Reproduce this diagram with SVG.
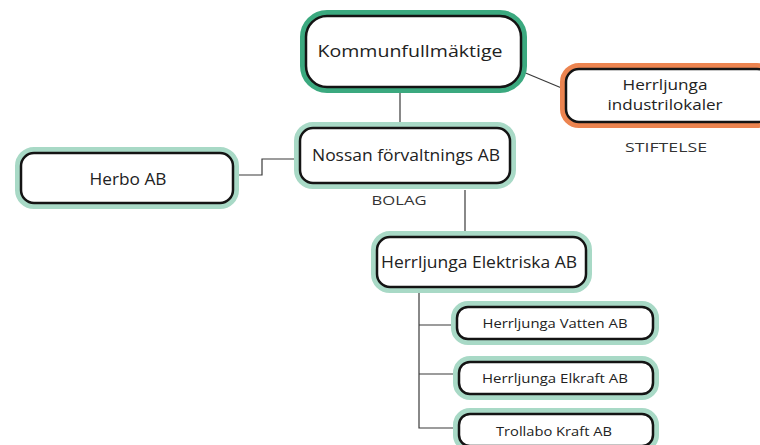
<svg xmlns="http://www.w3.org/2000/svg" width="760" height="445" viewBox="0 0 760 445">
<style>
.halo{fill:#fff;stroke:#a8d9c6;stroke-width:6}
.halo.g{stroke:#3ba97f}
.halo.o{stroke:#ec8450}
.core{fill:#fff;stroke:#141414;stroke-width:2.5}
text{font-family:"Open Sans","Liberation Sans",sans-serif;fill:#222;text-anchor:middle;dominant-baseline:central}
.l{font-size:16.5px}
.m{font-size:15.5px}
.s{font-size:13.5px}
.o2{font-size:14px}
.lab{font-size:13.5px;fill:#333}
.c{fill:none;stroke:#3a3a3a;stroke-width:1.2}
</style>
<rect width="760" height="445" fill="#fff"/>
<g id="connectors">
<path class="c" d="M400 93V123"/>
<path class="c" d="M516 69L564 89"/>
<path class="c" d="M238 175H262V159H296"/>
<path class="c" d="M465 190V235"/>
<path class="c" d="M419 290V428H455M419 325H453M419 374H455"/>
</g>
<g id="kommunfullmaktige">
<rect class="halo g" x="303" y="13" width="221" height="77" rx="24"/>
<rect class="core" x="306" y="16" width="215" height="71" rx="21"/>
<text class="l" x="410" y="50" textLength="185" lengthAdjust="spacingAndGlyphs">Kommunfullmäktige</text>
</g>
<g id="industrilokaler">
<rect class="halo o" x="563" y="66" width="210" height="59" rx="16"/>
<rect class="core" x="566" y="69" width="204" height="53" rx="13"/>
<text class="o2" x="665" y="84" textLength="85" lengthAdjust="spacingAndGlyphs">Herrljunga</text>
<text class="o2" x="665" y="104" textLength="115" lengthAdjust="spacingAndGlyphs">industrilokaler</text>
</g>
<text class="lab" x="666" y="147" textLength="82" lengthAdjust="spacingAndGlyphs">STIFTELSE</text>
<g id="nossan">
<rect class="halo" x="297" y="125" width="216" height="61" rx="16"/>
<rect class="core" x="300" y="128" width="210" height="55" rx="13"/>
<text class="m" x="406" y="155" textLength="188" lengthAdjust="spacingAndGlyphs">Nossan förvaltnings AB</text>
</g>
<text class="lab" x="399" y="200" textLength="55" lengthAdjust="spacingAndGlyphs">BOLAG</text>
<g id="herbo">
<rect class="halo" x="18" y="150" width="218" height="56" rx="16"/>
<rect class="core" x="21" y="153" width="212" height="50" rx="13"/>
<text class="m" x="128" y="179" textLength="77" lengthAdjust="spacingAndGlyphs">Herbo AB</text>
</g>
<g id="elektriska">
<rect class="halo" x="374" y="234" width="215" height="56" rx="16"/>
<rect class="core" x="377" y="237" width="209" height="50" rx="13"/>
<text class="m" x="479" y="262" textLength="196" lengthAdjust="spacingAndGlyphs">Herrljunga Elektriska AB</text>
</g>
<g id="vatten">
<rect class="halo" x="454" y="304" width="202" height="38" rx="14"/>
<rect class="core" x="457" y="307" width="196" height="32" rx="11"/>
<text class="s" x="555" y="323" textLength="145" lengthAdjust="spacingAndGlyphs">Herrljunga Vatten AB</text>
</g>
<g id="elkraft">
<rect class="halo" x="456" y="359" width="200" height="38" rx="14"/>
<rect class="core" x="459" y="362" width="194" height="32" rx="11"/>
<text class="s" x="555" y="378" textLength="146" lengthAdjust="spacingAndGlyphs">Herrljunga Elkraft AB</text>
</g>
<g id="trollabo">
<rect class="halo" x="456" y="411" width="200" height="38" rx="14"/>
<rect class="core" x="459" y="414" width="194" height="32" rx="11"/>
<text class="s" x="554" y="431" textLength="116" lengthAdjust="spacingAndGlyphs">Trollabo Kraft AB</text>
</g>
</svg>
